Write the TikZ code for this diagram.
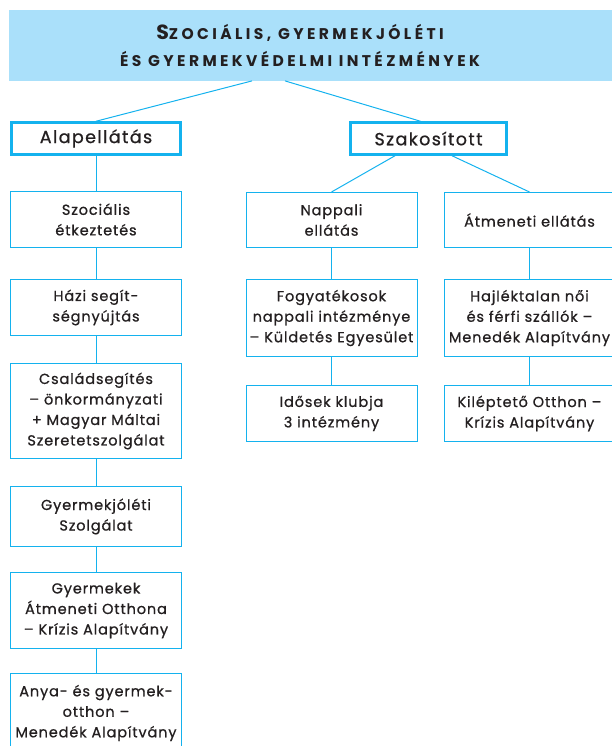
\documentclass[tikz,border=0pt]{standalone}
\usepackage{fontspec}
\setmainfont{Poppins}
\newfontfamily\titlefont{Poppins}[LetterSpace=22]
\newfontfamily\boxfont{Poppins}[LetterSpace=6,FakeBold=0.8]
\newfontfamily\branchfont{Poppins}[LetterSpace=8,FakeBold=0.8]
\definecolor{skyline}{RGB}{20,178,238}
\definecolor{skyfill}{RGB}{170,224,250}
\definecolor{inkgrey}{RGB}{35,31,32}
\usetikzlibrary{
  calc,
  positioning
}
\newcommand\headinitial[1]{{\fontsize{20.5}{27}\selectfont #1}}
\tikzset{
  titlebar/.style={
    fill=skyfill,
    inner sep=0pt,
    align=center,
    text=inkgrey,
    font=\titlefont\bfseries\fontsize{15.5}{27}\selectfont
  },
  branch/.style={
    draw=skyline,
    line width=2.5pt,
    fill=white,
    inner sep=0pt,
    align=center,
    text=inkgrey,
    font=\branchfont\fontsize{17.5}{20}\selectfont
  },
  leaf/.style={
    draw=skyline,
    line width=1pt,
    fill=white,
    minimum width=171pt,
    text width=168pt,
    inner sep=0pt,
    align=center,
    text=inkgrey,
    font=\boxfont\fontsize{14.5}{20.5}\selectfont
  },
  link/.style={
    draw=skyline,
    line width=1pt
  }
}

\begin{document}
\begin{tikzpicture}[x=1pt,y=-1pt]
  \useasboundingbox (0,0) rectangle (612,746);

  % header
  \node[titlebar,minimum width=582pt,minimum height=70.7pt] (title) at (300,45.35)
  {%
    \headinitial{S}ZOCIÁLIS, GYERMEKJÓLÉTI\\
    ÉS GYERMEKVÉDELMI INTÉZMÉNYEK%
  };
  \fill[skyfill] ($(title.north east)+(-1,0)$) rectangle ($(title.south east)+(30,0)$);

  % two main branches
  \node[branch,minimum width=169pt,minimum height=32pt] (alap) at (96,138.5) {Alapellátás};
  \node[branch,minimum width=156pt,minimum height=32pt] (szak) at (428.5,138.5) {Szakosított};

  % left column
  \node[leaf,minimum height=56pt] (soc) at (96,219.5) {Szociális\\ étkeztetés};
  \node[leaf,minimum height=56pt,below=31pt of soc] (haz) {Házi segít-\\ ségnyújtás};
  \node[leaf,minimum height=95pt,below=27pt of haz] (csal)
    {Családsegítés\\ – önkormányzati\\ + Magyar Máltai\\ Szeretetszolgálat};
  \node[leaf,minimum height=60pt,below=27pt of csal] (gyj) {Gyermekjóléti\\ Szolgálat};
  \node[leaf,minimum height=76pt,below=25pt of gyj] (gyat)
    {Gyermekek\\ Átmeneti Otthona\\ – Krízis Alapítvány};
  \node[leaf,minimum height=79pt,below=24pt of gyat] (anya)
    {Anya- és gyermek-\\ otthon –\\ Menedék Alapítvány};

  % right columns
  \node[leaf,minimum height=55pt] (napp) at (331.5,220) {Nappali\\ ellátás};
  \node[leaf,minimum height=77pt,below=31pt of napp] (fogy)
    {Fogyatékosok\\ nappali intézménye\\ – Küldetés Egyesület};
  \node[leaf,minimum height=56pt,below=28pt of fogy] (idos) {Idősek klubja\\ 3 intézmény};

  \node[leaf,minimum height=55pt] (atm) at (529.5,220) {Átmeneti ellátás};
  \node[leaf,minimum height=77pt,below=31pt of atm] (hajl)
    {Hajléktalan női\\ és férfi szállók –\\ Menedék Alapítvány};
  \node[leaf,minimum height=56pt,below=28pt of hajl] (kilep)
    {Kiléptető Otthon –\\ Krízis Alapítvány};

  % connectors
  \draw[link] ($(title.south)+(-48,0)$) -- (alap.north);
  \draw[link] ($(title.south)+(-15,0)$) -- ($(szak.north)+(-8,0)$);
  \draw[link] ($(szak.south)+(-33.5,0)$) -- (napp.north);
  \draw[link] ($(szak.south)+(23.5,0)$) -- (atm.north);

  \draw[link] (alap) -- (soc) -- (haz) -- (csal) -- (gyj) -- (gyat) -- (anya);
  \draw[link] (napp) -- (fogy) -- (idos);
  \draw[link] (atm) -- (hajl) -- (kilep);
\end{tikzpicture}
\end{document}
